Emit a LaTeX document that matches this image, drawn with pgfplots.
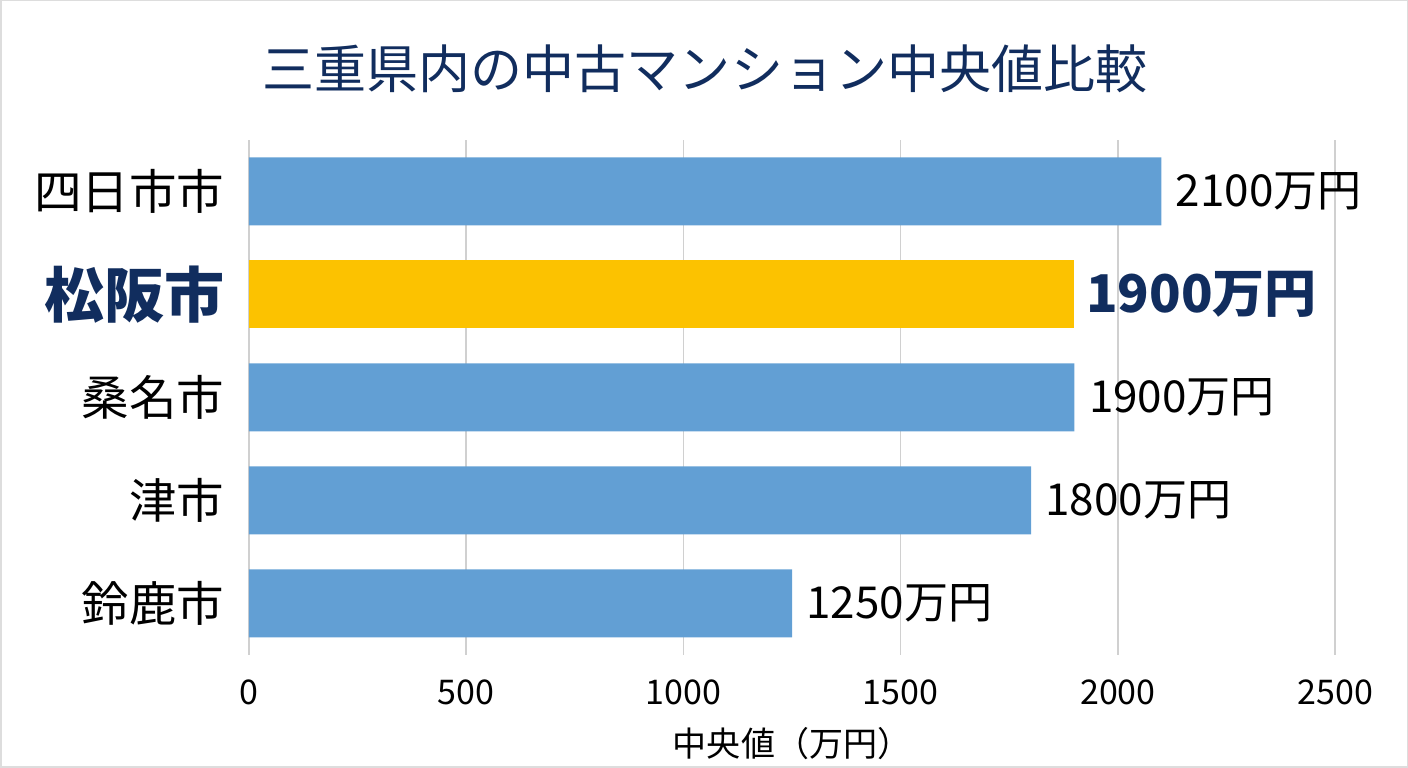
\documentclass[border=0pt]{standalone}
\usepackage{pgfplots}
\pgfplotsset{compat=1.18}
\usepackage{fontspec}
\setmainfont{Noto Sans CJK JP}
\definecolor{barblue}{HTML}{629FD4}
\definecolor{baryellow}{HTML}{FCC200}
\definecolor{navy}{HTML}{112D5E}
\definecolor{gridgray}{HTML}{D0D0D0}
\definecolor{framegray}{HTML}{DDDDDD}
\begin{document}
\begin{tikzpicture}[x=1pt,y=1pt]
\begin{axis}[
  at={(249pt,113pt)}, anchor=south west,
  scale only axis, width=1086pt, height=515pt,
  xbar, bar shift=0pt, bar width=68pt,
  xmin=0, xmax=2500, ymin=-0.5, ymax=4.5,
  xtick={0,500,1000,1500,2000,2500},
  ytick={0,1,2,3,4},
  yticklabels={鈴鹿市,津市,桑名市,{\fontsize{60}{60}\selectfont\bfseries\color{navy}松阪市},四日市市},
  xmajorgrids, grid style={gridgray, line width=1.5pt},
  axis line style={draw=none},
  major tick length=0pt,
  /pgf/number format/assume math mode=true,
  /pgf/number format/1000 sep={},
  xticklabel style={font=\fontsize{34}{34}\selectfont, yshift=-21pt},
  yticklabel style={font=\fontsize{47.5}{47.5}\selectfont, xshift=-21pt},
  xlabel={中央値（万円）},
  xlabel style={font=\fontsize{34}{34}\selectfont, yshift=-16pt},
  point meta=explicit symbolic,
  nodes near coords,
  every node near coord/.append style={anchor=west, xshift=11pt, font=\fontsize{44}{44}\selectfont, black},
  clip=false,
]
\addplot[fill=barblue, draw=none] table[meta=lab] {
x y lab
2100 4 2100万円
1900 2 1900万円
1800 1 1800万円
1250 0 1250万円
};
\addplot[fill=baryellow, draw=none,
  every node near coord/.append style={font=\fontsize{52}{52}\selectfont\bfseries, text=navy, xshift=-3pt}] table[meta=lab] {
x y lab
1900 3 1900万円
};
\end{axis}
\node[font=\fontsize{52}{52}\selectfont, text=navy] at (705pt,699pt) {三重県内の中古マンション中央値比較};
\draw[framegray, line width=1.5pt] (1pt,1pt) rectangle (1407pt,767pt);
\end{tikzpicture}
\end{document}
